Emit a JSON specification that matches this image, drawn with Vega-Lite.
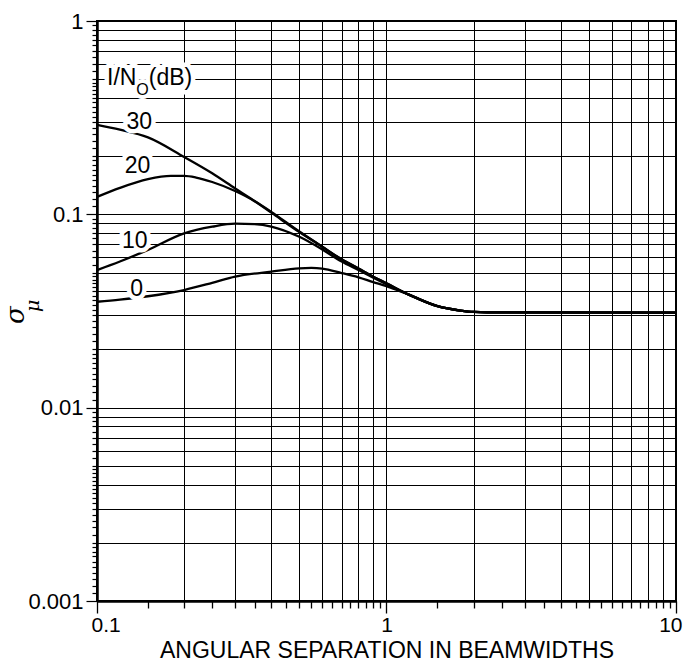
{
  "$schema": "https://vega.github.io/schema/vega-lite/v6.json",
  "width": 579,
  "height": 580,
  "autosize": {"type": "none"},
  "padding": {"left": 97, "top": 21, "right": 14, "bottom": 70},
  "background": "white",
  "config": {
    "view": {"stroke": "black", "strokeWidth": 2},
    "font": "Liberation Sans"
  },
  "datasets": {
    "curves": [
      {"s": "30", "x": 0.1, "y": 0.29}, {"s": "30", "x": 0.12, "y": 0.274}, {"s": "30", "x": 0.15, "y": 0.25}, {"s": "30", "x": 0.2, "y": 0.198}, {"s": "30", "x": 0.25, "y": 0.163}, {"s": "30", "x": 0.3, "y": 0.136}, {"s": "30", "x": 0.4, "y": 0.103}, {"s": "30", "x": 0.5, "y": 0.0815}, {"s": "30", "x": 0.6, "y": 0.068}, {"s": "30", "x": 0.7, "y": 0.0585}, {"s": "30", "x": 0.8, "y": 0.0525}, {"s": "30", "x": 0.9, "y": 0.0476}, {"s": "30", "x": 1.0, "y": 0.044}, {"s": "30", "x": 1.2, "y": 0.0383}, {"s": "30", "x": 1.5, "y": 0.0335}, {"s": "30", "x": 1.8, "y": 0.0318}, {"s": "30", "x": 2.0, "y": 0.0313}, {"s": "30", "x": 2.5, "y": 0.0311}, {"s": "30", "x": 10, "y": 0.031},
      {"s": "20", "x": 0.1, "y": 0.123}, {"s": "20", "x": 0.12, "y": 0.137}, {"s": "20", "x": 0.15, "y": 0.152}, {"s": "20", "x": 0.18, "y": 0.158}, {"s": "20", "x": 0.2, "y": 0.158}, {"s": "20", "x": 0.22, "y": 0.155}, {"s": "20", "x": 0.25, "y": 0.147}, {"s": "20", "x": 0.3, "y": 0.132}, {"s": "20", "x": 0.35, "y": 0.117}, {"s": "20", "x": 0.4, "y": 0.102}, {"s": "20", "x": 0.5, "y": 0.081}, {"s": "20", "x": 0.6, "y": 0.068}, {"s": "20", "x": 0.7, "y": 0.0585}, {"s": "20", "x": 0.8, "y": 0.0525}, {"s": "20", "x": 0.9, "y": 0.0476}, {"s": "20", "x": 1.0, "y": 0.044}, {"s": "20", "x": 1.2, "y": 0.0383}, {"s": "20", "x": 1.5, "y": 0.0335}, {"s": "20", "x": 1.8, "y": 0.0318}, {"s": "20", "x": 2.0, "y": 0.0313}, {"s": "20", "x": 2.5, "y": 0.0311}, {"s": "20", "x": 10, "y": 0.031},
      {"s": "10", "x": 0.1, "y": 0.0515}, {"s": "10", "x": 0.12, "y": 0.057}, {"s": "10", "x": 0.15, "y": 0.0655}, {"s": "10", "x": 0.2, "y": 0.0797}, {"s": "10", "x": 0.25, "y": 0.0863}, {"s": "10", "x": 0.3, "y": 0.0895}, {"s": "10", "x": 0.35, "y": 0.089}, {"s": "10", "x": 0.4, "y": 0.0865}, {"s": "10", "x": 0.5, "y": 0.0765}, {"s": "10", "x": 0.6, "y": 0.0658}, {"s": "10", "x": 0.7, "y": 0.057}, {"s": "10", "x": 0.8, "y": 0.0515}, {"s": "10", "x": 0.9, "y": 0.047}, {"s": "10", "x": 1.0, "y": 0.0435}, {"s": "10", "x": 1.2, "y": 0.0383}, {"s": "10", "x": 1.5, "y": 0.0335}, {"s": "10", "x": 1.8, "y": 0.0318}, {"s": "10", "x": 2.0, "y": 0.0313}, {"s": "10", "x": 2.5, "y": 0.0311}, {"s": "10", "x": 10, "y": 0.031},
      {"s": "0", "x": 0.1, "y": 0.0353}, {"s": "0", "x": 0.12, "y": 0.0362}, {"s": "0", "x": 0.15, "y": 0.0377}, {"s": "0", "x": 0.2, "y": 0.0406}, {"s": "0", "x": 0.25, "y": 0.0442}, {"s": "0", "x": 0.3, "y": 0.0476}, {"s": "0", "x": 0.4, "y": 0.0505}, {"s": "0", "x": 0.5, "y": 0.0525}, {"s": "0", "x": 0.55, "y": 0.0528}, {"s": "0", "x": 0.6, "y": 0.0524}, {"s": "0", "x": 0.7, "y": 0.0497}, {"s": "0", "x": 0.8, "y": 0.0472}, {"s": "0", "x": 0.9, "y": 0.0446}, {"s": "0", "x": 1.0, "y": 0.0425}, {"s": "0", "x": 1.1, "y": 0.0403}, {"s": "0", "x": 1.2, "y": 0.0383}, {"s": "0", "x": 1.5, "y": 0.0335}, {"s": "0", "x": 1.8, "y": 0.0318}, {"s": "0", "x": 2.0, "y": 0.0313}, {"s": "0", "x": 2.5, "y": 0.0311}, {"s": "0", "x": 10, "y": 0.031}
    ],
    "numlabels": [
      {"t": "30", "x": 0.14, "y": 0.3},
      {"t": "20", "x": 0.138, "y": 0.178},
      {"t": "10", "x": 0.135, "y": 0.0728},
      {"t": "0", "x": 0.137, "y": 0.0413}
    ],
    "head": [
      {"t": "I/N", "x": 0.1083, "y": 0.51},
      {"t": "(dB)", "x": 0.1509, "y": 0.51}
    ],
    "headsub": [
      {"t": "O", "x": 0.1367, "y": 0.44}
    ],
    "sigma": [
      {"t": "σ", "x": 0.0526, "y": 0.0301}
    ],
    "mu": [
      {"t": "μ", "x": 0.06, "y": 0.0336}
    ]
  },
  "encoding": {
    "x": {
      "field": "x", "type": "quantitative",
      "scale": {"type": "log", "domain": [0.1, 10], "nice": false},
      "axis": {
        "title": "ANGULAR SEPARATION IN BEAMWIDTHS",
        "titleFontSize": 23, "titleFontWeight": "normal", "titleColor": "black", "titleFont": "Liberation Sans",
        "titlePadding": 4,
        "values": [0.1,0.15,0.2,0.25,0.3,0.35,0.4,0.45,0.5,0.55,0.6,0.65,0.7,0.75,0.8,0.85,0.9,0.95,1,1.5,2,2.5,3,3.5,4,4.5,5,5.5,6,6.5,7,7.5,8,8.5,9,9.5,10],
        "format": "~g",
        "labelExpr": "abs(datum.value/pow(10, floor(log(datum.value)/LN10 + 1e-9)) - 1) < 1e-6 ? datum.label : ''",
        "labelOverlap": false,
        "labelFlush": true,
        "labelFlushOffset": 6,
        "labelFontSize": 21, "labelColor": "black", "labelFont": "Liberation Sans",
        "labelPadding": 1,
        "domainColor": "black", "domainWidth": 2.5,
        "tickColor": "black", "tickWidth": 1.3,
        "tickSize": {"condition": {"test": "abs(datum.value/pow(10, floor(log(datum.value)/LN10 + 1e-9)) - 1) < 1e-6", "value": 12}, "value": 7},
        "grid": true,
        "gridColor": "black",
        "gridWidth": 1,
        "gridOpacity": {"condition": {"test": "abs(datum.value/pow(10, floor(log(datum.value)/LN10 + 1e-9)) - round(datum.value/pow(10, floor(log(datum.value)/LN10 + 1e-9)))) < 1e-6", "value": 1}, "value": 0}
      }
    },
    "y": {
      "field": "y", "type": "quantitative",
      "scale": {"type": "log", "domain": [0.001, 1], "nice": false},
      "axis": {
        "title": null,
        "values": [0.001,0.0011,0.0012,0.0013,0.0014,0.0015,0.0016,0.0017,0.0018,0.0019,0.002,0.0022,0.0024,0.0026,0.0028,0.003,0.0032,0.0034,0.0036,0.0038,0.004,0.0042,0.0044,0.0046,0.0048,0.005,0.0055,0.006,0.0065,0.007,0.0075,0.008,0.0085,0.009,0.0095,
                   0.01,0.011,0.012,0.013,0.014,0.015,0.016,0.017,0.018,0.019,0.02,0.022,0.024,0.026,0.028,0.03,0.032,0.034,0.036,0.038,0.04,0.042,0.044,0.046,0.048,0.05,0.055,0.06,0.065,0.07,0.075,0.08,0.085,0.09,0.095,
                   0.1,0.11,0.12,0.13,0.14,0.15,0.16,0.17,0.18,0.19,0.2,0.22,0.24,0.26,0.28,0.3,0.32,0.34,0.36,0.38,0.4,0.42,0.44,0.46,0.48,0.5,0.55,0.6,0.65,0.7,0.75,0.8,0.85,0.9,0.95,1],
        "format": "~g",
        "labelExpr": "abs(datum.value/pow(10, floor(log(datum.value)/LN10 + 1e-9)) - 1) < 1e-6 ? datum.label : ''",
        "labelOverlap": false,
        "labelFlush": false,
        "labelFontSize": 22, "labelColor": "black", "labelFont": "Liberation Sans",
        "labelPadding": 3,
        "domainColor": "black", "domainWidth": 2.5,
        "tickColor": "black", "tickWidth": 1.2,
        "tickSize": {"condition": {"test": "abs(datum.value/pow(10, floor(log(datum.value)/LN10 + 1e-9)) - 1) < 1e-6", "value": 11}, "value": 5},
        "grid": true,
        "gridColor": "black",
        "gridWidth": 1,
        "gridOpacity": {"condition": {"test": "abs(datum.value/pow(10, floor(log(datum.value)/LN10 + 1e-9)) - round(datum.value/pow(10, floor(log(datum.value)/LN10 + 1e-9)))) < 1e-6", "value": 1}, "value": 0}
      }
    }
  },
  "layer": [
    {
      "data": {"name": "curves"},
      "mark": {"type": "line", "color": "black", "strokeWidth": 2.3, "interpolate": "monotone"},
      "encoding": {"detail": {"field": "s", "type": "nominal"}}
    },
    {
      "data": {"name": "numlabels"},
      "mark": {"type": "text", "fontSize": 23, "align": "center", "baseline": "middle", "fill": "white", "stroke": "white", "strokeWidth": 9, "strokeJoin": "round"},
      "encoding": {"text": {"field": "t"}}
    },
    {
      "data": {"name": "numlabels"},
      "mark": {"type": "text", "fontSize": 23, "align": "center", "baseline": "middle", "color": "black"},
      "encoding": {"text": {"field": "t"}}
    },
    {
      "data": {"name": "head"},
      "mark": {"type": "text", "fontSize": 23, "align": "left", "baseline": "middle", "fill": "white", "stroke": "white", "strokeWidth": 9, "strokeJoin": "round"},
      "encoding": {"text": {"field": "t"}}
    },
    {
      "data": {"name": "headsub"},
      "mark": {"type": "text", "fontSize": 16, "align": "left", "baseline": "middle", "fill": "white", "stroke": "white", "strokeWidth": 8, "strokeJoin": "round"},
      "encoding": {"text": {"field": "t"}}
    },
    {
      "data": {"name": "head"},
      "mark": {"type": "text", "fontSize": 23, "align": "left", "baseline": "middle", "color": "black"},
      "encoding": {"text": {"field": "t"}}
    },
    {
      "data": {"name": "headsub"},
      "mark": {"type": "text", "fontSize": 16, "align": "left", "baseline": "middle", "color": "black"},
      "encoding": {"text": {"field": "t"}}
    },
    {
      "data": {"name": "sigma"},
      "mark": {"type": "text", "fontSize": 26, "angle": 270, "align": "center", "baseline": "middle", "color": "black", "font": "DejaVu Serif", "fontStyle": "italic"},
      "encoding": {"text": {"field": "t"}}
    },
    {
      "data": {"name": "mu"},
      "mark": {"type": "text", "fontSize": 19, "angle": 270, "align": "center", "baseline": "middle", "color": "black", "font": "DejaVu Serif", "fontStyle": "italic"},
      "encoding": {"text": {"field": "t"}}
    }
  ]
}
